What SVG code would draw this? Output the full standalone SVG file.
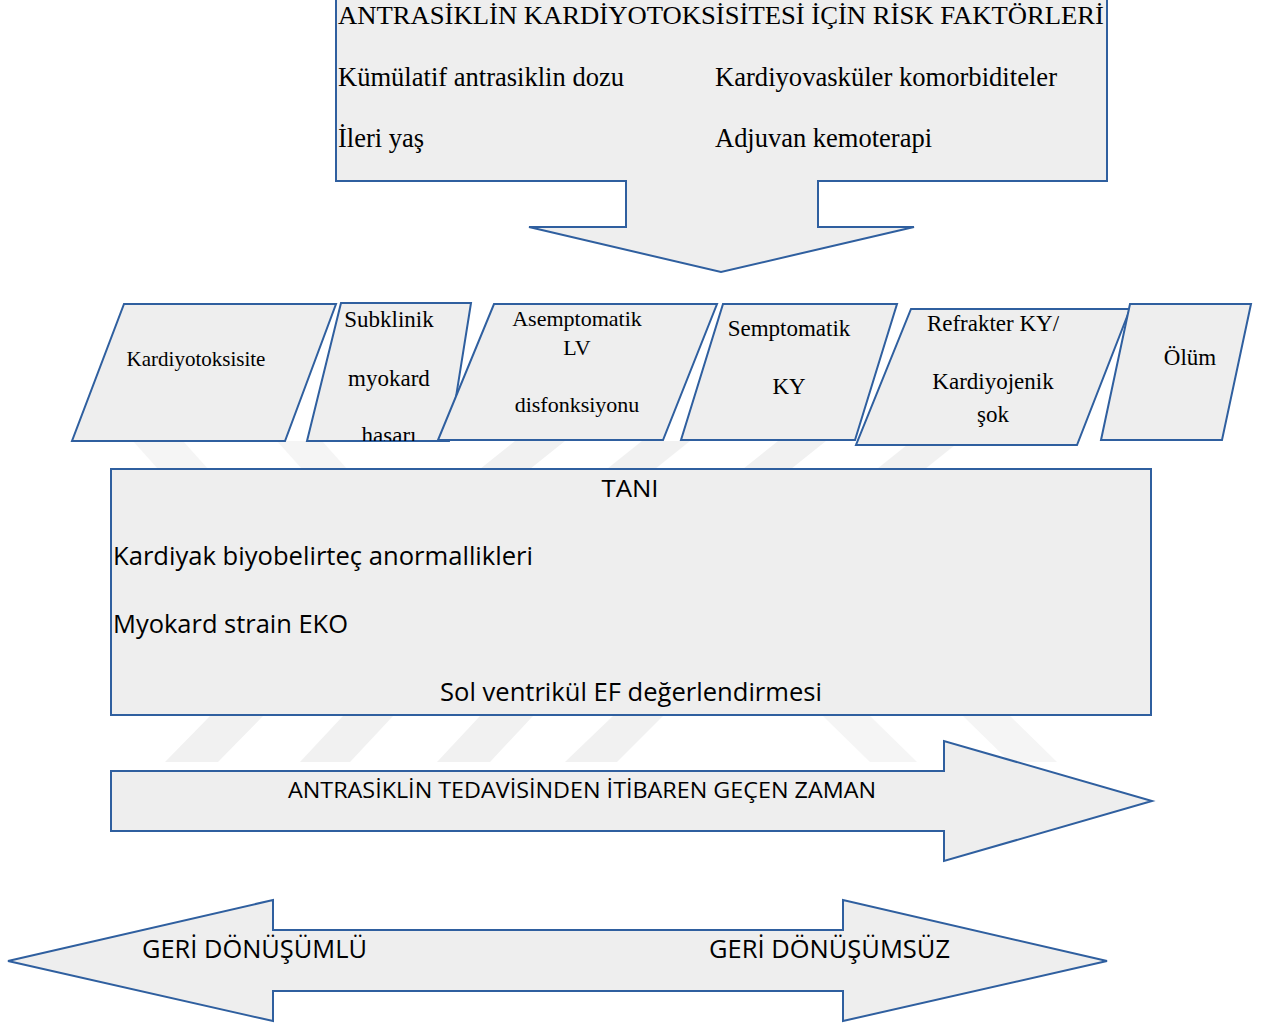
<svg xmlns="http://www.w3.org/2000/svg" width="1261" height="1027" viewBox="0 0 1261 1027">
<defs>
<style>
.shape{fill:#eeeeee;stroke:#2f5f9f;stroke-width:2;stroke-linejoin:miter}
.wm{fill:#f1f1f1}
.wm2{fill:#f5f5f5}
.tm{font-family:"Liberation Serif","Times New Roman",serif;fill:#000}
.sn{font-family:"Open Sans","Noto Sans","Liberation Sans",sans-serif;fill:#000}
.mid{text-anchor:middle}
</style>
<clipPath id="c2"><polygon points="341,303 471,303 449,441 307,441"/></clipPath>
</defs>
<rect width="1261" height="1027" fill="#ffffff"/>
<g id="watermark">
<polygon class="wm2" points="133,441 183,441 208,469 158,469"/>
<polygon class="wm2" points="277,441 322,441 347,469 302,469"/>
<polygon class="wm" points="515,441 565,441 530,469 480,469"/>
<polygon class="wm" points="642,441 690,441 655,469 607,469"/>
<polygon class="wm" points="778,441 826,441 791,469 743,469"/>
<polygon class="wm" points="912,441 960,441 925,469 877,469"/>
<polygon class="wm" points="210,716 263,716 218,762 165,762"/>
<polygon class="wm" points="343,716 393,716 350,762 300,762"/>
<polygon class="wm" points="480,716 533,716 490,762 437,762"/>
<polygon class="wm" points="613,716 663,716 617,762 565,762"/>
<polygon class="wm2" points="823,716 870,716 917,762 870,762"/>
<polygon class="wm2" points="963,716 1010,716 1057,762 1010,762"/>
</g>
<g id="connectors"></g>
<g id="risk-factors">
<polygon class="shape" points="336,-3 1107,-3 1107,181 818,181 818,227 914,227 721,272 529,227 626,227 626,181 336,181"/>
<text class="tm" x="338" y="24" font-size="26" textLength="766" lengthAdjust="spacingAndGlyphs">ANTRASİKLİN KARDİYOTOKSİSİTESİ İÇİN RİSK FAKTÖRLERİ</text>
<text class="tm" x="338" y="86" font-size="26.5" textLength="286" lengthAdjust="spacingAndGlyphs">Kümülatif antrasiklin dozu</text>
<text class="tm" x="715" y="86" font-size="26.5" textLength="342" lengthAdjust="spacingAndGlyphs">Kardiyovasküler komorbiditeler</text>
<text class="tm" x="338" y="147" font-size="26.5">İleri yaş</text>
<text class="tm" x="715" y="147" font-size="26.5" textLength="217" lengthAdjust="spacingAndGlyphs">Adjuvan kemoterapi</text>
</g>
<g id="node-kardiyotoksisite">
<polygon class="shape" points="124,304 336,304 285,441 72,441"/>
<text class="tm mid" x="196" y="366" font-size="21">Kardiyotoksisite</text>
</g>
<g id="node-subklinik">
<polygon class="shape" points="341,303 471,303 449,441 307,441"/>
<g clip-path="url(#c2)">
<text class="tm mid" x="389" y="327" font-size="23">Subklinik</text>
<text class="tm mid" x="389" y="386" font-size="23">myokard</text>
<text class="tm mid" x="389" y="443" font-size="23">hasarı</text>
</g>
</g>
<g id="node-asemptomatik">
<polygon class="shape" points="494,304 717,304 663,440 438,440"/>
<text class="tm mid" x="577" y="326" font-size="22">Asemptomatik</text>
<text class="tm mid" x="577" y="355" font-size="22">LV</text>
<text class="tm mid" x="577" y="412" font-size="22">disfonksiyonu</text>
</g>
<g id="node-semptomatik">
<polygon class="shape" points="723,304 897,304 855,440 681,440"/>
<text class="tm mid" x="789" y="336" font-size="23">Semptomatik</text>
<text class="tm mid" x="789" y="394" font-size="23">KY</text>
</g>
<g id="node-refrakter">
<polygon class="shape" points="911,309 1130,309 1077,445 856,445"/>
<text class="tm mid" x="993" y="331" font-size="23">Refrakter KY/</text>
<text class="tm mid" x="993" y="389" font-size="23">Kardiyojenik</text>
<text class="tm mid" x="993" y="422" font-size="23">şok</text>
</g>
<g id="node-olum">
<polygon class="shape" points="1130,304 1251,304 1222,440 1101,440"/>
<text class="tm mid" x="1190" y="365" font-size="23">Ölüm</text>
</g>
<g id="node-tani">
<rect class="shape" x="111" y="469" width="1040" height="246"/>
<text class="sn mid" x="630" y="497" font-size="24" textLength="57" lengthAdjust="spacingAndGlyphs">TANI</text>
<text class="sn" x="113" y="565" font-size="25" textLength="420" lengthAdjust="spacingAndGlyphs">Kardiyak biyobelirteç anormallikleri</text>
<text class="sn" x="113" y="633" font-size="25" textLength="235" lengthAdjust="spacingAndGlyphs">Myokard strain EKO</text>
<text class="sn" x="440" y="701" font-size="25" textLength="382" lengthAdjust="spacingAndGlyphs">Sol ventrikül EF değerlendirmesi</text>
</g>
<g id="node-zaman">
<polygon class="shape" points="111,771 944,771 944,741 1152,801 944,861 944,831 111,831"/>
<text class="sn" x="288" y="798" font-size="22" textLength="588" lengthAdjust="spacingAndGlyphs">ANTRASİKLİN TEDAVİSİNDEN İTİBAREN GEÇEN ZAMAN</text>
</g>
<g id="node-geri">
<polygon class="shape" points="8,961 273,900 273,930 843,930 843,900 1107,961 843,1021 843,991 273,991 273,1021"/>
<text class="sn" x="142" y="958" font-size="25" textLength="225" lengthAdjust="spacingAndGlyphs">GERİ DÖNÜŞÜMLÜ</text>
<text class="sn" x="709" y="958" font-size="25" textLength="241" lengthAdjust="spacingAndGlyphs">GERİ DÖNÜŞÜMSÜZ</text>
</g>
</svg>
